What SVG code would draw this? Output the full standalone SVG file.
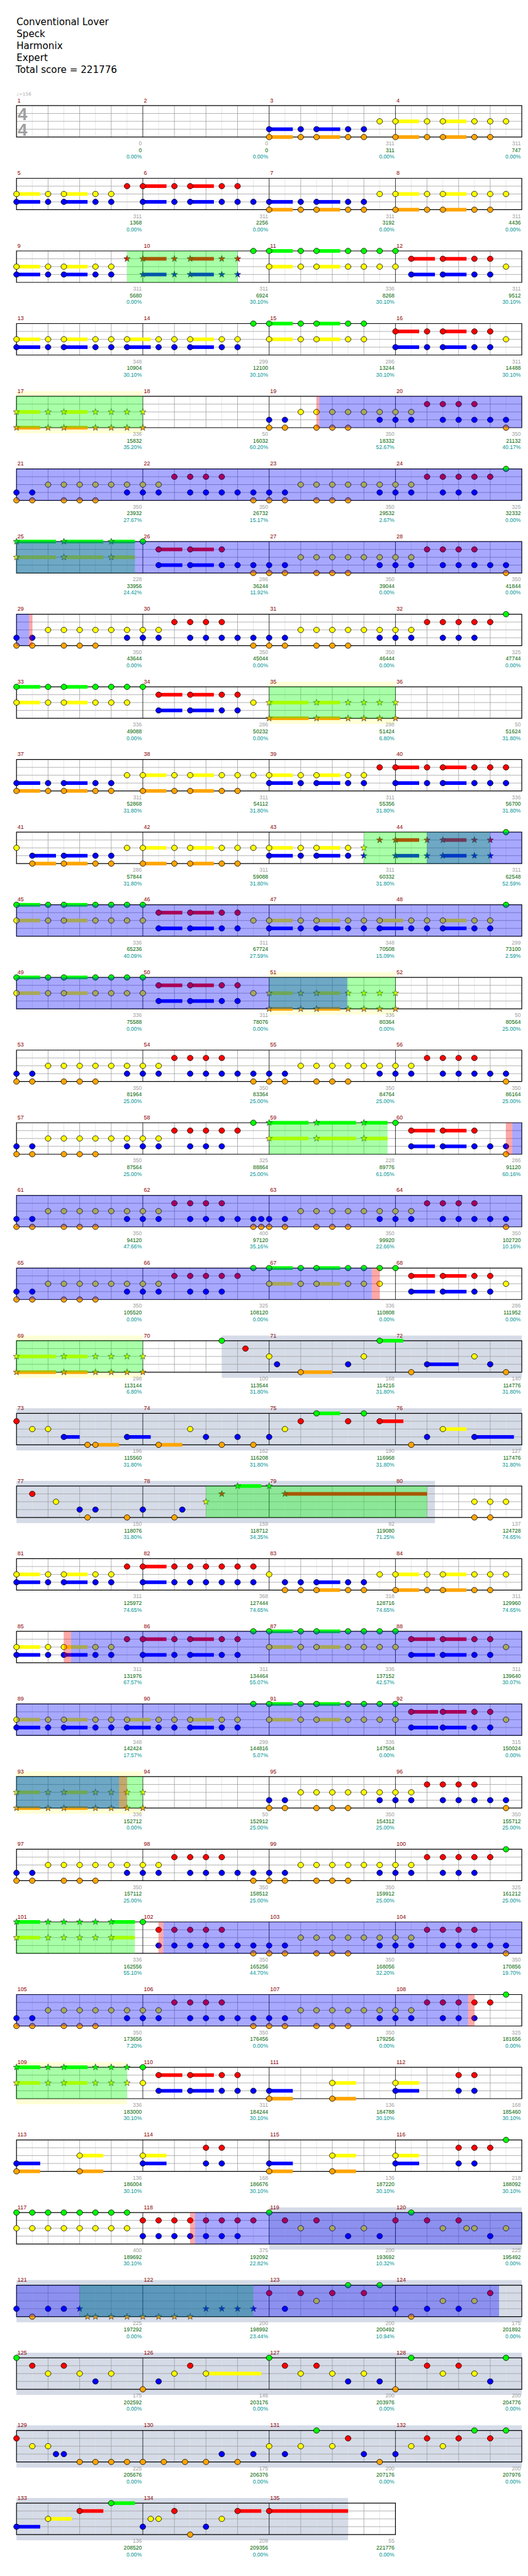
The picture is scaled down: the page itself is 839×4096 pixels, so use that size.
<svg xmlns="http://www.w3.org/2000/svg" width="839" height="4096" viewBox="0 0 839 4096">
<style>
*{vector-effect:non-scaling-stroke}
text{font-family:"Liberation Sans",Arial,sans-serif;font-size:10.5px}
.t{font-family:"DejaVu Sans",sans-serif;font-size:18.5px;fill:#000}
.n{fill:#8b0000;font-size:11px}
.g{fill:#a0a0a0;text-anchor:end}
.s{fill:#006400;text-anchor:end}
.p{fill:#009494;text-anchor:end}
.py{fill:#ffffd6}
.sl{fill:#d5dbe7}
.wf{fill:#fff}
.og{fill:#0f0;fill-opacity:.34}
.ob{fill:#00f;fill-opacity:.34}
.or{fill:#f00;fill-opacity:.34}
.c{stroke:#000;stroke-width:.8}
.k{stroke:#222;stroke-width:.6}
.fG{fill:#0f0}.fR{fill:#f00}.fY{fill:#ff0}.fB{fill:#00f}.fO{fill:#ffa500}
</style>
<defs>
<ellipse id="G" class="c" rx=".18" ry="5.3" fill="#0f0" vector-effect="non-scaling-stroke"/>
<ellipse id="R" class="c" cy="15.25" rx=".18" ry="5.3" fill="#f00" vector-effect="non-scaling-stroke"/>
<ellipse id="Y" class="c" cy="30.5" rx=".18" ry="5.3" fill="#ff0" vector-effect="non-scaling-stroke"/>
<ellipse id="B" class="c" cy="45.75" rx=".18" ry="5.3" fill="#00f" vector-effect="non-scaling-stroke"/>
<ellipse id="O" class="c" cy="61" rx=".18" ry="5.3" fill="#ffa500" vector-effect="non-scaling-stroke"/>
<rect id="sG" y="-3.5" width="1.5" height="7" fill="#0f0"/>
<rect id="sR" y="11.75" width="1.5" height="7" fill="#f00"/>
<rect id="sY" y="27" width="1.5" height="7" fill="#ff0"/>
<rect id="sB" y="42.25" width="1.5" height="7" fill="#00f"/>
<rect id="sO" y="57.5" width="1.5" height="7" fill="#ffa500"/>
<polygon id="xG" class="k" fill="#0f0" vector-effect="non-scaling-stroke" points="0,-6.5 .05,-2.1 .202,-2 .081,.8 .125,5.3 0,2.6 -.125,5.3 -.081,.8 -.202,-2 -.05,-2.1"/>
<polygon id="xR" class="k" fill="#f00" vector-effect="non-scaling-stroke" transform="translate(0 15.25)" points="0,-6.5 .05,-2.1 .202,-2 .081,.8 .125,5.3 0,2.6 -.125,5.3 -.081,.8 -.202,-2 -.05,-2.1"/>
<polygon id="xY" class="k" fill="#ff0" vector-effect="non-scaling-stroke" transform="translate(0 30.5)" points="0,-6.5 .05,-2.1 .202,-2 .081,.8 .125,5.3 0,2.6 -.125,5.3 -.081,.8 -.202,-2 -.05,-2.1"/>
<polygon id="xB" class="k" fill="#00f" vector-effect="non-scaling-stroke" transform="translate(0 45.75)" points="0,-6.5 .05,-2.1 .202,-2 .081,.8 .125,5.3 0,2.6 -.125,5.3 -.081,.8 -.202,-2 -.05,-2.1"/>
<polygon id="xO" class="k" fill="#ffa500" vector-effect="non-scaling-stroke" transform="translate(0 61)" points="0,-6.5 .05,-2.1 .202,-2 .081,.8 .125,5.3 0,2.6 -.125,5.3 -.081,.8 -.202,-2 -.05,-2.1"/>
<g id="st" fill="none" stroke-width=".8">
<path stroke="#e2e2e2" vector-effect="non-scaling-stroke" d="M1 0V61M3 0V61M5 0V61M7 0V61M9 0V61M11 0V61M13 0V61M15 0V61M17 0V61M19 0V61M21 0V61M23 0V61M25 0V61M27 0V61M29 0V61M31 0V61"/>
<path stroke="#a0a0a0" vector-effect="non-scaling-stroke" d="M2 0V61M4 0V61M6 0V61M10 0V61M12 0V61M14 0V61M18 0V61M20 0V61M22 0V61M26 0V61M28 0V61M30 0V61M0 15.25H32M0 30.5H32M0 45.75H32"/>
<path stroke="#000" vector-effect="non-scaling-stroke" d="M8 0V61M16 0V61M24 0V61"/>
<rect width="32" height="61" stroke="#000" stroke-width="1.2" vector-effect="non-scaling-stroke"/>
</g>
<g id="st3" fill="none" stroke-width=".8">
<path stroke="#e2e2e2" vector-effect="non-scaling-stroke" d="M1 0V61M3 0V61M5 0V61M7 0V61M9 0V61M11 0V61M13 0V61M15 0V61M17 0V61M19 0V61M21 0V61M23 0V61"/>
<path stroke="#a0a0a0" vector-effect="non-scaling-stroke" d="M2 0V61M4 0V61M6 0V61M10 0V61M12 0V61M14 0V61M18 0V61M20 0V61M22 0V61M0 15.25H24M0 30.5H24M0 45.75H24"/>
<path stroke="#000" vector-effect="non-scaling-stroke" d="M8 0V61M16 0V61"/>
<rect width="24" height="61" stroke="#000" stroke-width="1.2" vector-effect="non-scaling-stroke"/>
</g>
</defs>
<rect width="839" height="4096" fill="#fff"/>
<g transform="scale(0.8193)">
<g id="title">
<text class="t" x="32" y="49">Conventional Lover</text>
<text class="t" x="32" y="72">Speck</text>
<text class="t" x="32" y="95">Harmonix</text>
<text class="t" x="32" y="118">Expert</text>
<text class="t" x="30.5" y="141">Total score = 221776</text>
</g>

<g id="r1" transform="translate(32 205)">
<g transform="scale(30.625 1)">
<use href="#st"/>
<use href="#sB" x="16"/><use href="#sB" x="19"/><use href="#sO" x="16"/><use href="#sO" x="19"/><use href="#sO" x="24"/><use href="#sO" x="27"/><use href="#sY" x="24"/><use href="#sY" x="27"/>
<use href="#B" x="16"/><use href="#B" x="18"/><use href="#B" x="19"/><use href="#B" x="21"/><use href="#B" x="22"/>
<use href="#O" x="16"/><use href="#O" x="18"/><use href="#O" x="19"/><use href="#O" x="21"/><use href="#O" x="22"/><use href="#O" x="24"/><use href="#O" x="26"/><use href="#O" x="27"/><use href="#O" x="29"/><use href="#O" x="30"/>
<use href="#Y" x="23"/><use href="#Y" x="24"/><use href="#Y" x="26"/><use href="#Y" x="27"/><use href="#Y" x="29"/><use href="#Y" x="30"/><use href="#Y" x="31"/>
</g>
<text x="0" y="-19" style="font-family:'DejaVu Sans',sans-serif;font-size:9px;fill:#aaa">♩=156</text>
<text x="11.5" y="28" style="font-weight:bold;font-size:34px;fill:#a0a0a0;text-anchor:middle">4</text>
<text x="11.5" y="59" style="font-weight:bold;font-size:34px;fill:#a0a0a0;text-anchor:middle">4</text>
<text class="n" y="-6.5"><tspan x="2">1</tspan><tspan x="247">2</tspan><tspan x="492">3</tspan><tspan x="737">4</tspan></text>
<text class="g" y="77"><tspan x="243">0</tspan><tspan x="488">0</tspan><tspan x="733">311</tspan><tspan x="978">311</tspan></text>
<text class="s" y="90"><tspan x="243">0</tspan><tspan x="488">0</tspan><tspan x="733">311</tspan><tspan x="978">747</tspan></text>
<text class="p" y="103"><tspan x="243">0.00%</tspan><tspan x="488">0.00%</tspan><tspan x="733">0.00%</tspan><tspan x="978">0.00%</tspan></text>
</g>

<g id="r2" transform="translate(32 346)">
<g transform="scale(30.625 1)">
<use href="#st"/>
<use href="#sR" x="8"/><use href="#sR" x="11"/><use href="#sY" x="0"/><use href="#sY" x="3"/><use href="#sY" x="24"/><use href="#sY" x="27"/><use href="#sB" x="0"/><use href="#sB" x="3"/><use href="#sB" x="8"/><use href="#sB" x="11"/><use href="#sB" x="16"/><use href="#sB" x="19"/><use href="#sO" x="16"/><use href="#sO" x="19"/><use href="#sO" x="24"/><use href="#sO" x="27"/>
<use href="#R" x="7"/><use href="#R" x="8"/><use href="#R" x="10"/><use href="#R" x="11"/><use href="#R" x="13"/><use href="#R" x="14"/>
<use href="#Y" x="0"/><use href="#Y" x="2"/><use href="#Y" x="3"/><use href="#Y" x="5"/><use href="#Y" x="6"/><use href="#Y" x="23"/><use href="#Y" x="24"/><use href="#Y" x="26"/><use href="#Y" x="27"/><use href="#Y" x="29"/><use href="#Y" x="30"/><use href="#Y" x="31"/>
<use href="#B" x="0"/><use href="#B" x="2"/><use href="#B" x="3"/><use href="#B" x="5"/><use href="#B" x="6"/><use href="#B" x="8"/><use href="#B" x="10"/><use href="#B" x="11"/><use href="#B" x="13"/><use href="#B" x="14"/><use href="#B" x="15"/><use href="#B" x="16"/><use href="#B" x="18"/><use href="#B" x="19"/><use href="#B" x="21"/><use href="#B" x="22"/>
<use href="#O" x="16"/><use href="#O" x="18"/><use href="#O" x="19"/><use href="#O" x="21"/><use href="#O" x="22"/><use href="#O" x="24"/><use href="#O" x="26"/><use href="#O" x="27"/><use href="#O" x="29"/><use href="#O" x="30"/>
</g>
<text class="n" y="-6.5"><tspan x="2">5</tspan><tspan x="247">6</tspan><tspan x="492">7</tspan><tspan x="737">8</tspan></text>
<text class="g" y="77"><tspan x="243">311</tspan><tspan x="488">311</tspan><tspan x="733">311</tspan><tspan x="978">311</tspan></text>
<text class="s" y="90"><tspan x="243">1368</tspan><tspan x="488">2256</tspan><tspan x="733">3192</tspan><tspan x="978">4436</tspan></text>
<text class="p" y="103"><tspan x="243">0.00%</tspan><tspan x="488">0.00%</tspan><tspan x="733">0.00%</tspan><tspan x="978">0.00%</tspan></text>
</g>

<g id="r3" transform="translate(32 487)">
<g transform="scale(30.625 1)">
<use href="#st"/>
<use href="#sR" x="8"/><use href="#sR" x="11"/><use href="#sB" x="8"/><use href="#sB" x="11"/><use href="#sG" x="16"/><use href="#sG" x="19"/><use href="#sY" x="0"/><use href="#sY" x="3"/><use href="#sY" x="16"/><use href="#sY" x="19"/><use href="#sB" x="0"/><use href="#sB" x="3"/><use href="#sB" x="25"/><use href="#sB" x="27"/><use href="#sR" x="25"/><use href="#sR" x="27"/>
<use href="#xR" x="7"/><use href="#xR" x="8"/><use href="#xR" x="10"/><use href="#xR" x="11"/><use href="#xR" x="13"/><use href="#xR" x="14"/>
<use href="#xB" x="8"/><use href="#xB" x="10"/><use href="#xB" x="11"/><use href="#xB" x="13"/><use href="#xB" x="14"/>
<use href="#G" x="15"/><use href="#G" x="16"/><use href="#G" x="18"/><use href="#G" x="19"/><use href="#G" x="21"/><use href="#G" x="22"/><use href="#G" x="23"/><use href="#G" x="24"/>
<use href="#Y" x="0"/><use href="#Y" x="2"/><use href="#Y" x="3"/><use href="#Y" x="5"/><use href="#Y" x="6"/><use href="#Y" x="16"/><use href="#Y" x="18"/><use href="#Y" x="19"/><use href="#Y" x="21"/><use href="#Y" x="22"/><use href="#Y" x="23"/><use href="#Y" x="24"/><use href="#Y" x="31"/>
<use href="#B" x="0"/><use href="#B" x="2"/><use href="#B" x="3"/><use href="#B" x="5"/><use href="#B" x="6"/><use href="#B" x="25"/><use href="#B" x="27"/><use href="#B" x="29"/><use href="#B" x="30"/>
<use href="#R" x="25"/><use href="#R" x="27"/><use href="#R" x="29"/><use href="#R" x="30"/>
<rect class="og" x="7" width="7" height="61"/>
</g>
<text class="n" y="-6.5"><tspan x="2">9</tspan><tspan x="247">10</tspan><tspan x="492">11</tspan><tspan x="737">12</tspan></text>
<text class="g" y="77"><tspan x="243">311</tspan><tspan x="488">311</tspan><tspan x="733">336</tspan><tspan x="978">311</tspan></text>
<text class="s" y="90"><tspan x="243">5680</tspan><tspan x="488">6924</tspan><tspan x="733">8268</tspan><tspan x="978">9512</tspan></text>
<text class="p" y="103"><tspan x="243">0.00%</tspan><tspan x="488">30.10%</tspan><tspan x="733">30.10%</tspan><tspan x="978">30.10%</tspan></text>
</g>

<g id="r4" transform="translate(32 628)">
<g transform="scale(30.625 1)">
<use href="#st"/>
<use href="#sG" x="16"/><use href="#sG" x="19"/><use href="#sY" x="0"/><use href="#sY" x="3"/><use href="#sY" x="7"/><use href="#sY" x="11"/><use href="#sY" x="16"/><use href="#sY" x="19"/><use href="#sB" x="0"/><use href="#sB" x="3"/><use href="#sB" x="7"/><use href="#sB" x="11"/><use href="#sB" x="24"/><use href="#sB" x="27"/><use href="#sR" x="24"/><use href="#sR" x="27"/>
<use href="#G" x="15"/><use href="#G" x="16"/><use href="#G" x="18"/><use href="#G" x="19"/><use href="#G" x="21"/><use href="#G" x="22"/>
<use href="#Y" x="0"/><use href="#Y" x="2"/><use href="#Y" x="3"/><use href="#Y" x="5"/><use href="#Y" x="6"/><use href="#Y" x="7"/><use href="#Y" x="9"/><use href="#Y" x="10"/><use href="#Y" x="11"/><use href="#Y" x="13"/><use href="#Y" x="14"/><use href="#Y" x="16"/><use href="#Y" x="18"/><use href="#Y" x="19"/><use href="#Y" x="21"/><use href="#Y" x="22"/><use href="#Y" x="31"/>
<use href="#B" x="0"/><use href="#B" x="2"/><use href="#B" x="3"/><use href="#B" x="5"/><use href="#B" x="6"/><use href="#B" x="7"/><use href="#B" x="9"/><use href="#B" x="10"/><use href="#B" x="11"/><use href="#B" x="13"/><use href="#B" x="14"/><use href="#B" x="24"/><use href="#B" x="26"/><use href="#B" x="27"/><use href="#B" x="29"/><use href="#B" x="30"/>
<use href="#R" x="24"/><use href="#R" x="26"/><use href="#R" x="27"/><use href="#R" x="29"/><use href="#R" x="30"/>
</g>
<text class="n" y="-6.5"><tspan x="2">13</tspan><tspan x="247">14</tspan><tspan x="492">15</tspan><tspan x="737">16</tspan></text>
<text class="g" y="77"><tspan x="243">348</tspan><tspan x="488">299</tspan><tspan x="733">286</tspan><tspan x="978">311</tspan></text>
<text class="s" y="90"><tspan x="243">10904</tspan><tspan x="488">12100</tspan><tspan x="733">13244</tspan><tspan x="978">14488</tspan></text>
<text class="p" y="103"><tspan x="243">30.10%</tspan><tspan x="488">30.10%</tspan><tspan x="733">30.10%</tspan><tspan x="978">30.10%</tspan></text>
</g>

<g id="r5" transform="translate(32 769)">
<g transform="scale(30.625 1)">
<rect class="py" y="-10" width="8" height="82"/><rect class="wf" width="8" height="61"/>
<use href="#st"/>
<use href="#sY" x="0"/><use href="#sY" x="3"/><use href="#sO" x="0"/><use href="#sO" x="3"/>
<use href="#xY" x="0"/><use href="#xY" x="2"/><use href="#xY" x="3"/><use href="#xY" x="5"/><use href="#xY" x="6"/><use href="#xY" x="7"/><use href="#xY" x="8"/>
<use href="#xO" x="0"/><use href="#xO" x="2"/><use href="#xO" x="3"/><use href="#xO" x="5"/><use href="#xO" x="6"/><use href="#xO" x="7"/><use href="#xO" x="8"/>
<use href="#B" x="16"/><use href="#B" x="17"/><use href="#O" x="16"/><use href="#O" x="17"/><use href="#O" x="19"/><use href="#Y" x="18"/><use href="#Y" x="19"/>
<use href="#Y" x="20"/><use href="#Y" x="21"/><use href="#Y" x="22"/><use href="#Y" x="23"/><use href="#Y" x="24"/><use href="#Y" x="25"/>
<use href="#O" x="20"/><use href="#O" x="21"/><use href="#O" x="31"/>
<use href="#B" x="23"/><use href="#B" x="24"/><use href="#B" x="25"/><use href="#B" x="27"/><use href="#B" x="28"/><use href="#B" x="29"/><use href="#B" x="30"/><use href="#B" x="31"/>
<use href="#R" x="26"/><use href="#R" x="27"/><use href="#R" x="28"/><use href="#R" x="29"/>
<rect class="og" width="8" height="61"/><rect class="or" x="19" width=".17" height="61"/><rect class="ob" x="19.17" width="12.83" height="61"/>
</g>
<text class="n" y="-6.5"><tspan x="2">17</tspan><tspan x="247">18</tspan><tspan x="492">19</tspan><tspan x="737">20</tspan></text>
<text class="g" y="77"><tspan x="243">336</tspan><tspan x="488">50</tspan><tspan x="733">350</tspan><tspan x="978">350</tspan></text>
<text class="s" y="90"><tspan x="243">15832</tspan><tspan x="488">16032</tspan><tspan x="733">18332</tspan><tspan x="978">21132</tspan></text>
<text class="p" y="103"><tspan x="243">35.20%</tspan><tspan x="488">60.20%</tspan><tspan x="733">52.67%</tspan><tspan x="978">40.17%</tspan></text>
</g>

<g id="r6" transform="translate(32 910)">
<g transform="scale(30.625 1)">
<use href="#st"/>
<use href="#B" x="0"/><use href="#B" x="1"/><use href="#B" x="7"/><use href="#B" x="8"/><use href="#B" x="9"/><use href="#B" x="11"/><use href="#B" x="12"/><use href="#B" x="13"/><use href="#B" x="14"/><use href="#B" x="15"/><use href="#B" x="16"/><use href="#B" x="17"/><use href="#B" x="23"/><use href="#B" x="24"/><use href="#B" x="25"/><use href="#B" x="27"/><use href="#B" x="28"/><use href="#B" x="29"/>
<use href="#O" x="0"/><use href="#O" x="1"/><use href="#O" x="3"/><use href="#O" x="4"/><use href="#O" x="5"/><use href="#O" x="15"/><use href="#O" x="16"/><use href="#O" x="17"/><use href="#O" x="19"/><use href="#O" x="20"/><use href="#O" x="21"/>
<use href="#Y" x="2"/><use href="#Y" x="3"/><use href="#Y" x="4"/><use href="#Y" x="5"/><use href="#Y" x="6"/><use href="#Y" x="7"/><use href="#Y" x="8"/><use href="#Y" x="9"/><use href="#Y" x="18"/><use href="#Y" x="19"/><use href="#Y" x="20"/><use href="#Y" x="21"/><use href="#Y" x="22"/><use href="#Y" x="23"/><use href="#Y" x="24"/><use href="#Y" x="25"/>
<use href="#R" x="10"/><use href="#R" x="11"/><use href="#R" x="12"/><use href="#R" x="13"/><use href="#R" x="26"/><use href="#R" x="27"/><use href="#R" x="28"/><use href="#R" x="29"/><use href="#R" x="30"/>
<use href="#G" x="31"/>
<rect class="ob" width="32" height="61"/>
</g>
<text class="n" y="-6.5"><tspan x="2">21</tspan><tspan x="247">22</tspan><tspan x="492">23</tspan><tspan x="737">24</tspan></text>
<text class="g" y="77"><tspan x="243">350</tspan><tspan x="488">350</tspan><tspan x="733">350</tspan><tspan x="978">325</tspan></text>
<text class="s" y="90"><tspan x="243">23932</tspan><tspan x="488">26732</tspan><tspan x="733">29532</tspan><tspan x="978">32332</tspan></text>
<text class="p" y="103"><tspan x="243">27.67%</tspan><tspan x="488">15.17%</tspan><tspan x="733">2.67%</tspan><tspan x="978">0.00%</tspan></text>
</g>

<g id="r7" transform="translate(32 1051)">
<g transform="scale(30.625 1)">
<use href="#st"/>
<rect class="fG" y="-3.5" width="2.5" height="7"/><rect class="fG" x="3" y="-3.5" width="2.5" height="7"/><use href="#sG" x="6"/>
<rect class="fY" y="27" width="2.5" height="7"/><rect class="fY" x="3" y="27" width="2.5" height="7"/><use href="#sY" x="6"/>
<use href="#sR" x="9"/><use href="#sR" x="11"/><use href="#sB" x="9"/><use href="#sB" x="11"/>
<use href="#xG" x="0"/><use href="#xG" x="3"/><use href="#xG" x="6"/><use href="#xY" x="0"/><use href="#xY" x="3"/><use href="#xY" x="6"/>
<use href="#G" x="8"/>
<use href="#R" x="9"/><use href="#R" x="11"/><use href="#R" x="13"/><use href="#R" x="26"/><use href="#R" x="27"/><use href="#R" x="28"/><use href="#R" x="29"/>
<use href="#B" x="9"/><use href="#B" x="11"/><use href="#B" x="13"/><use href="#B" x="14"/><use href="#B" x="15"/><use href="#B" x="16"/><use href="#B" x="17"/><use href="#B" x="23"/><use href="#B" x="24"/><use href="#B" x="25"/><use href="#B" x="27"/><use href="#B" x="28"/><use href="#B" x="29"/><use href="#B" x="30"/><use href="#B" x="31"/>
<use href="#Y" x="18"/><use href="#Y" x="19"/><use href="#Y" x="20"/><use href="#Y" x="21"/><use href="#Y" x="22"/><use href="#Y" x="23"/><use href="#Y" x="24"/><use href="#Y" x="25"/>
<use href="#O" x="15"/><use href="#O" x="16"/><use href="#O" x="17"/><use href="#O" x="19"/><use href="#O" x="20"/><use href="#O" x="21"/><use href="#O" x="31"/>
<rect class="og" width="7.5" height="61"/><rect class="ob" width="32" height="61"/>
</g>
<text class="n" y="-6.5"><tspan x="2">25</tspan><tspan x="247">26</tspan><tspan x="492">27</tspan><tspan x="737">28</tspan></text>
<text class="g" y="77"><tspan x="243">228</tspan><tspan x="488">286</tspan><tspan x="733">350</tspan><tspan x="978">350</tspan></text>
<text class="s" y="90"><tspan x="243">33956</tspan><tspan x="488">36244</tspan><tspan x="733">39044</tspan><tspan x="978">41844</tspan></text>
<text class="p" y="103"><tspan x="243">24.42%</tspan><tspan x="488">11.92%</tspan><tspan x="733">0.00%</tspan><tspan x="978">0.00%</tspan></text>
</g>

<g id="r8" transform="translate(32 1192)">
<g transform="scale(30.625 1)">
<use href="#st"/>
<use href="#B" x="0"/><use href="#B" x="1"/><use href="#B" x="7"/><use href="#B" x="8"/><use href="#B" x="9"/><use href="#B" x="11"/><use href="#B" x="12"/><use href="#B" x="13"/><use href="#B" x="14"/><use href="#B" x="15"/><use href="#B" x="16"/><use href="#B" x="17"/><use href="#B" x="23"/><use href="#B" x="24"/><use href="#B" x="25"/><use href="#B" x="27"/><use href="#B" x="28"/><use href="#B" x="29"/>
<use href="#O" x="0"/><use href="#O" x="1"/><use href="#O" x="3"/><use href="#O" x="4"/><use href="#O" x="5"/><use href="#O" x="15"/><use href="#O" x="16"/><use href="#O" x="17"/><use href="#O" x="19"/><use href="#O" x="20"/><use href="#O" x="21"/>
<use href="#Y" x="2"/><use href="#Y" x="3"/><use href="#Y" x="4"/><use href="#Y" x="5"/><use href="#Y" x="6"/><use href="#Y" x="7"/><use href="#Y" x="8"/><use href="#Y" x="9"/><use href="#Y" x="18"/><use href="#Y" x="19"/><use href="#Y" x="20"/><use href="#Y" x="21"/><use href="#Y" x="22"/><use href="#Y" x="23"/><use href="#Y" x="24"/><use href="#Y" x="25"/>
<use href="#R" x="10"/><use href="#R" x="11"/><use href="#R" x="12"/><use href="#R" x="13"/><use href="#R" x="26"/><use href="#R" x="27"/><use href="#R" x="28"/><use href="#R" x="29"/><use href="#R" x="30"/>
<use href="#G" x="31"/>
<rect class="ob" width=".8" height="61"/><rect class="or" x=".8" width=".2" height="61"/>
</g>
<text class="n" y="-6.5"><tspan x="2">29</tspan><tspan x="247">30</tspan><tspan x="492">31</tspan><tspan x="737">32</tspan></text>
<text class="g" y="77"><tspan x="243">350</tspan><tspan x="488">350</tspan><tspan x="733">350</tspan><tspan x="978">325</tspan></text>
<text class="s" y="90"><tspan x="243">43644</tspan><tspan x="488">45044</tspan><tspan x="733">46444</tspan><tspan x="978">47744</tspan></text>
<text class="p" y="103"><tspan x="243">0.00%</tspan><tspan x="488">0.00%</tspan><tspan x="733">0.00%</tspan><tspan x="978">0.00%</tspan></text>
</g>

<g id="r9" transform="translate(32 1333)">
<g transform="scale(30.625 1)">
<rect class="py" x="16" y="-10" width="8" height="82"/><rect class="wf" x="16" width="8" height="61"/>
<use href="#st"/>
<use href="#sG" x="0"/><use href="#sG" x="3"/><use href="#sY" x="0"/><use href="#sY" x="3"/><use href="#sR" x="9"/><use href="#sR" x="11"/><use href="#sB" x="9"/><use href="#sB" x="11"/>
<rect class="fY" x="16" y="27" width="2.5" height="7"/><use href="#sY" x="19"/><rect class="fO" x="16" y="57.5" width="2.5" height="7"/><use href="#sO" x="19"/>
<use href="#G" x="0"/><use href="#G" x="2"/><use href="#G" x="3"/><use href="#G" x="5"/><use href="#G" x="6"/><use href="#G" x="7"/><use href="#G" x="8"/>
<use href="#Y" x="0"/><use href="#Y" x="2"/><use href="#Y" x="3"/><use href="#Y" x="5"/><use href="#Y" x="6"/><use href="#Y" x="7"/><use href="#Y" x="15"/>
<use href="#R" x="9"/><use href="#R" x="11"/><use href="#R" x="13"/><use href="#R" x="14"/>
<use href="#B" x="9"/><use href="#B" x="11"/><use href="#B" x="13"/><use href="#B" x="14"/>
<use href="#xY" x="16"/><use href="#xY" x="19"/><use href="#xY" x="21"/><use href="#xY" x="22"/><use href="#xY" x="23"/><use href="#xY" x="24"/>
<use href="#xO" x="16"/><use href="#xO" x="19"/><use href="#xO" x="21"/><use href="#xO" x="22"/><use href="#xO" x="23"/><use href="#xO" x="24"/>
<rect class="og" x="16" width="8" height="61"/>
</g>
<text class="n" y="-6.5"><tspan x="2">33</tspan><tspan x="247">34</tspan><tspan x="492">35</tspan><tspan x="737">36</tspan></text>
<text class="g" y="77"><tspan x="243">336</tspan><tspan x="488">286</tspan><tspan x="733">298</tspan><tspan x="978">50</tspan></text>
<text class="s" y="90"><tspan x="243">49088</tspan><tspan x="488">50232</tspan><tspan x="733">51424</tspan><tspan x="978">51624</tspan></text>
<text class="p" y="103"><tspan x="243">0.00%</tspan><tspan x="488">0.00%</tspan><tspan x="733">6.80%</tspan><tspan x="978">31.80%</tspan></text>
</g>

<g id="r10" transform="translate(32 1474)">
<g transform="scale(30.625 1)">
<use href="#st"/>
<use href="#sY" x="8"/><use href="#sY" x="11"/><use href="#sY" x="16"/><use href="#sY" x="19"/><use href="#sB" x="0"/><use href="#sB" x="3"/><use href="#sB" x="16"/><use href="#sB" x="19"/><use href="#sB" x="24"/><use href="#sB" x="27"/><use href="#sO" x="0"/><use href="#sO" x="3"/><use href="#sO" x="8"/><use href="#sO" x="11"/><use href="#sR" x="24"/><use href="#sR" x="27"/>
<use href="#Y" x="7"/><use href="#Y" x="8"/><use href="#Y" x="10"/><use href="#Y" x="11"/><use href="#Y" x="13"/><use href="#Y" x="14"/><use href="#Y" x="15"/><use href="#Y" x="16"/><use href="#Y" x="18"/><use href="#Y" x="19"/><use href="#Y" x="21"/><use href="#Y" x="22"/>
<use href="#B" x="0"/><use href="#B" x="2"/><use href="#B" x="3"/><use href="#B" x="5"/><use href="#B" x="6"/><use href="#B" x="16"/><use href="#B" x="18"/><use href="#B" x="19"/><use href="#B" x="21"/><use href="#B" x="22"/><use href="#B" x="24"/><use href="#B" x="26"/><use href="#B" x="27"/><use href="#B" x="29"/><use href="#B" x="30"/><use href="#B" x="31"/>
<use href="#O" x="0"/><use href="#O" x="2"/><use href="#O" x="3"/><use href="#O" x="5"/><use href="#O" x="6"/><use href="#O" x="8"/><use href="#O" x="10"/><use href="#O" x="11"/><use href="#O" x="13"/><use href="#O" x="14"/>
<use href="#R" x="23"/><use href="#R" x="24"/><use href="#R" x="26"/><use href="#R" x="27"/><use href="#R" x="29"/><use href="#R" x="30"/><use href="#R" x="31"/>
</g>
<text class="n" y="-6.5"><tspan x="2">37</tspan><tspan x="247">38</tspan><tspan x="492">39</tspan><tspan x="737">40</tspan></text>
<text class="g" y="77"><tspan x="243">311</tspan><tspan x="488">311</tspan><tspan x="733">311</tspan><tspan x="978">336</tspan></text>
<text class="s" y="90"><tspan x="243">52868</tspan><tspan x="488">54112</tspan><tspan x="733">55356</tspan><tspan x="978">56700</tspan></text>
<text class="p" y="103"><tspan x="243">31.80%</tspan><tspan x="488">31.80%</tspan><tspan x="733">31.80%</tspan><tspan x="978">31.80%</tspan></text>
</g>

<g id="r11" transform="translate(32 1615)">
<g transform="scale(30.625 1)">
<use href="#st"/>
<use href="#sY" x="8"/><use href="#sY" x="11"/><use href="#sY" x="16"/><use href="#sY" x="19"/><use href="#sB" x="1"/><use href="#sB" x="3"/><use href="#sB" x="16"/><use href="#sB" x="19"/><use href="#sO" x="1"/><use href="#sO" x="3"/><use href="#sO" x="8"/><use href="#sO" x="11"/><use href="#sR" x="24"/><use href="#sR" x="27"/><use href="#sB" x="24"/><use href="#sB" x="27"/>
<use href="#Y" x="0"/><use href="#Y" x="7"/><use href="#Y" x="8"/><use href="#Y" x="10"/><use href="#Y" x="11"/><use href="#Y" x="13"/><use href="#Y" x="14"/><use href="#Y" x="15"/><use href="#Y" x="16"/><use href="#Y" x="18"/><use href="#Y" x="19"/><use href="#Y" x="21"/><use href="#xY" x="22"/>
<use href="#B" x="1"/><use href="#B" x="3"/><use href="#B" x="5"/><use href="#B" x="6"/><use href="#B" x="16"/><use href="#B" x="18"/><use href="#B" x="19"/><use href="#B" x="21"/><use href="#xB" x="22"/>
<use href="#O" x="1"/><use href="#O" x="3"/><use href="#O" x="5"/><use href="#O" x="6"/><use href="#O" x="8"/><use href="#O" x="10"/><use href="#O" x="11"/><use href="#O" x="13"/><use href="#O" x="14"/>
<use href="#xR" x="23"/><use href="#xR" x="24"/><use href="#xR" x="26"/><use href="#xR" x="27"/><use href="#xR" x="29"/><use href="#xR" x="30"/>
<use href="#xB" x="24"/><use href="#xB" x="26"/><use href="#xB" x="27"/><use href="#xB" x="29"/><use href="#xB" x="30"/>
<use href="#G" x="31"/>
<rect class="og" x="22" width="8" height="61"/><rect class="ob" x="26" width="6" height="61"/>
</g>
<text class="n" y="-6.5"><tspan x="2">41</tspan><tspan x="247">42</tspan><tspan x="492">43</tspan><tspan x="737">44</tspan></text>
<text class="g" y="77"><tspan x="243">286</tspan><tspan x="488">311</tspan><tspan x="733">311</tspan><tspan x="978">311</tspan></text>
<text class="s" y="90"><tspan x="243">57844</tspan><tspan x="488">59088</tspan><tspan x="733">60332</tspan><tspan x="978">62548</tspan></text>
<text class="p" y="103"><tspan x="243">31.80%</tspan><tspan x="488">31.80%</tspan><tspan x="733">31.80%</tspan><tspan x="978">52.59%</tspan></text>
</g>

<g id="r12" transform="translate(32 1756)">
<g transform="scale(30.625 1)">
<use href="#st"/>
<use href="#sG" x="0"/><use href="#sG" x="3"/><use href="#sY" x="0"/><use href="#sY" x="3"/><use href="#sY" x="16"/><use href="#sY" x="19"/><use href="#sY" x="23"/><use href="#sY" x="27"/><use href="#sR" x="9"/><use href="#sR" x="11"/><use href="#sB" x="9"/><use href="#sB" x="11"/><use href="#sB" x="16"/><use href="#sB" x="19"/><use href="#sB" x="23"/><use href="#sB" x="27"/>
<use href="#G" x="0"/><use href="#G" x="2"/><use href="#G" x="3"/><use href="#G" x="5"/><use href="#G" x="6"/><use href="#G" x="7"/><use href="#G" x="8"/><use href="#G" x="31"/>
<use href="#Y" x="0"/><use href="#Y" x="2"/><use href="#Y" x="3"/><use href="#Y" x="5"/><use href="#Y" x="6"/><use href="#Y" x="7"/><use href="#Y" x="8"/><use href="#Y" x="15"/><use href="#Y" x="16"/><use href="#Y" x="18"/><use href="#Y" x="19"/><use href="#Y" x="21"/><use href="#Y" x="22"/><use href="#Y" x="23"/><use href="#Y" x="25"/><use href="#Y" x="26"/><use href="#Y" x="27"/><use href="#Y" x="29"/><use href="#Y" x="30"/>
<use href="#R" x="9"/><use href="#R" x="11"/><use href="#R" x="13"/><use href="#R" x="14"/>
<use href="#B" x="9"/><use href="#B" x="11"/><use href="#B" x="13"/><use href="#B" x="14"/><use href="#B" x="16"/><use href="#B" x="18"/><use href="#B" x="19"/><use href="#B" x="21"/><use href="#B" x="22"/><use href="#B" x="23"/><use href="#B" x="25"/><use href="#B" x="26"/><use href="#B" x="27"/><use href="#B" x="29"/><use href="#B" x="30"/>
<rect class="ob" width="32" height="61"/>
</g>
<text class="n" y="-6.5"><tspan x="2">45</tspan><tspan x="247">46</tspan><tspan x="492">47</tspan><tspan x="737">48</tspan></text>
<text class="g" y="77"><tspan x="243">336</tspan><tspan x="488">311</tspan><tspan x="733">348</tspan><tspan x="978">299</tspan></text>
<text class="s" y="90"><tspan x="243">65236</tspan><tspan x="488">67724</tspan><tspan x="733">70508</tspan><tspan x="978">73100</tspan></text>
<text class="p" y="103"><tspan x="243">40.09%</tspan><tspan x="488">27.59%</tspan><tspan x="733">15.09%</tspan><tspan x="978">2.59%</tspan></text>
</g>

<g id="r13" transform="translate(32 1897)">
<g transform="scale(30.625 1)">
<rect class="py" x="16" y="-10" width="8" height="82"/><rect class="wf" x="16" width="8" height="61"/>
<use href="#st"/>
<use href="#sG" x="0"/><use href="#sG" x="3"/><use href="#sY" x="0"/><use href="#sY" x="3"/><use href="#sR" x="9"/><use href="#sR" x="11"/><use href="#sB" x="9"/><use href="#sB" x="11"/><use href="#sY" x="16"/><use href="#sY" x="19"/><use href="#sO" x="16"/><use href="#sO" x="19"/>
<use href="#G" x="0"/><use href="#G" x="2"/><use href="#G" x="3"/><use href="#G" x="5"/><use href="#G" x="6"/><use href="#G" x="7"/><use href="#G" x="8"/>
<use href="#Y" x="0"/><use href="#Y" x="2"/><use href="#Y" x="3"/><use href="#Y" x="5"/><use href="#Y" x="6"/><use href="#Y" x="7"/><use href="#Y" x="8"/><use href="#Y" x="15"/>
<use href="#R" x="9"/><use href="#R" x="11"/><use href="#R" x="13"/><use href="#R" x="14"/>
<use href="#B" x="9"/><use href="#B" x="11"/><use href="#B" x="13"/><use href="#B" x="14"/>
<use href="#xY" x="16"/><use href="#xY" x="18"/><use href="#xY" x="19"/><use href="#xY" x="21"/><use href="#xY" x="22"/><use href="#xY" x="23"/><use href="#xY" x="24"/>
<use href="#xO" x="16"/><use href="#xO" x="18"/><use href="#xO" x="19"/><use href="#xO" x="21"/><use href="#xO" x="22"/><use href="#xO" x="23"/><use href="#xO" x="24"/>
<rect class="og" x="16" width="8" height="61"/><rect class="ob" width="20.95" height="61"/>
</g>
<text class="n" y="-6.5"><tspan x="2">49</tspan><tspan x="247">50</tspan><tspan x="492">51</tspan><tspan x="737">52</tspan></text>
<text class="g" y="77"><tspan x="243">336</tspan><tspan x="488">311</tspan><tspan x="733">336</tspan><tspan x="978">50</tspan></text>
<text class="s" y="90"><tspan x="243">75588</tspan><tspan x="488">78076</tspan><tspan x="733">80364</tspan><tspan x="978">80564</tspan></text>
<text class="p" y="103"><tspan x="243">0.00%</tspan><tspan x="488">0.00%</tspan><tspan x="733">0.00%</tspan><tspan x="978">25.00%</tspan></text>
</g>

<g id="r14" transform="translate(32 2038)">
<g transform="scale(30.625 1)">
<use href="#st"/>
<use href="#B" x="0"/><use href="#B" x="1"/><use href="#B" x="7"/><use href="#B" x="8"/><use href="#B" x="9"/><use href="#B" x="11"/><use href="#B" x="12"/><use href="#B" x="13"/><use href="#B" x="14"/><use href="#B" x="15"/><use href="#B" x="16"/><use href="#B" x="17"/><use href="#B" x="23"/><use href="#B" x="24"/><use href="#B" x="25"/><use href="#B" x="27"/><use href="#B" x="28"/><use href="#B" x="29"/><use href="#B" x="30"/><use href="#B" x="31"/>
<use href="#O" x="0"/><use href="#O" x="1"/><use href="#O" x="3"/><use href="#O" x="4"/><use href="#O" x="5"/><use href="#O" x="15"/><use href="#O" x="16"/><use href="#O" x="17"/><use href="#O" x="19"/><use href="#O" x="20"/><use href="#O" x="21"/><use href="#O" x="31"/>
<use href="#Y" x="2"/><use href="#Y" x="3"/><use href="#Y" x="4"/><use href="#Y" x="5"/><use href="#Y" x="6"/><use href="#Y" x="7"/><use href="#Y" x="8"/><use href="#Y" x="9"/><use href="#Y" x="18"/><use href="#Y" x="19"/><use href="#Y" x="20"/><use href="#Y" x="21"/><use href="#Y" x="22"/><use href="#Y" x="23"/><use href="#Y" x="24"/><use href="#Y" x="25"/>
<use href="#R" x="10"/><use href="#R" x="11"/><use href="#R" x="12"/><use href="#R" x="13"/><use href="#R" x="26"/><use href="#R" x="27"/><use href="#R" x="28"/><use href="#R" x="29"/>
</g>
<text class="n" y="-6.5"><tspan x="2">53</tspan><tspan x="247">54</tspan><tspan x="492">55</tspan><tspan x="737">56</tspan></text>
<text class="g" y="77"><tspan x="243">350</tspan><tspan x="488">350</tspan><tspan x="733">350</tspan><tspan x="978">350</tspan></text>
<text class="s" y="90"><tspan x="243">81964</tspan><tspan x="488">83364</tspan><tspan x="733">84764</tspan><tspan x="978">86164</tspan></text>
<text class="p" y="103"><tspan x="243">25.00%</tspan><tspan x="488">25.00%</tspan><tspan x="733">25.00%</tspan><tspan x="978">25.00%</tspan></text>
</g>

<g id="r15" transform="translate(32 2179)">
<g transform="scale(30.625 1)">
<use href="#st"/>
<rect class="fG" x="16" y="-3.5" width="2.5" height="7"/><rect class="fG" x="19" y="-3.5" width="2.5" height="7"/><use href="#sG" x="22"/>
<rect class="fY" x="16" y="27" width="2.5" height="7"/><rect class="fY" x="19" y="27" width="2.5" height="7"/><use href="#sY" x="22"/>
<use href="#sR" x="25"/><use href="#sR" x="27"/><use href="#sB" x="25"/><use href="#sB" x="27"/>
<use href="#B" x="0"/><use href="#B" x="1"/><use href="#B" x="7"/><use href="#B" x="8"/><use href="#B" x="9"/><use href="#B" x="11"/><use href="#B" x="12"/><use href="#B" x="13"/><use href="#B" x="25"/><use href="#B" x="27"/><use href="#B" x="29"/><use href="#B" x="30"/><use href="#B" x="31"/>
<use href="#O" x="0"/><use href="#O" x="1"/><use href="#O" x="3"/><use href="#O" x="4"/><use href="#O" x="5"/><use href="#O" x="31"/>
<use href="#Y" x="2"/><use href="#Y" x="3"/><use href="#Y" x="4"/><use href="#Y" x="5"/><use href="#Y" x="6"/><use href="#Y" x="7"/><use href="#Y" x="8"/><use href="#Y" x="9"/>
<use href="#R" x="10"/><use href="#R" x="11"/><use href="#R" x="12"/><use href="#R" x="13"/><use href="#R" x="14"/><use href="#R" x="25"/><use href="#R" x="27"/><use href="#R" x="29"/>
<use href="#G" x="15"/><use href="#G" x="24"/>
<use href="#xG" x="16"/><use href="#xG" x="19"/><use href="#xG" x="22"/><use href="#xY" x="16"/><use href="#xY" x="19"/><use href="#xY" x="22"/>
<rect class="og" x="16" width="7.5" height="61"/><rect class="or" x="31" width=".4" height="61"/><rect class="ob" x="31.4" width=".6" height="61"/>
</g>
<text class="n" y="-6.5"><tspan x="2">57</tspan><tspan x="247">58</tspan><tspan x="492">59</tspan><tspan x="737">60</tspan></text>
<text class="g" y="77"><tspan x="243">350</tspan><tspan x="488">325</tspan><tspan x="733">228</tspan><tspan x="978">286</tspan></text>
<text class="s" y="90"><tspan x="243">87564</tspan><tspan x="488">88864</tspan><tspan x="733">89776</tspan><tspan x="978">91120</tspan></text>
<text class="p" y="103"><tspan x="243">25.00%</tspan><tspan x="488">25.00%</tspan><tspan x="733">61.05%</tspan><tspan x="978">60.16%</tspan></text>
</g>

<g id="r16" transform="translate(32 2320)">
<g transform="scale(30.625 1)">
<use href="#st"/>
<use href="#R" x="10"/><use href="#R" x="11"/><use href="#R" x="12"/><use href="#R" x="13"/><use href="#R" x="26"/><use href="#R" x="27"/><use href="#R" x="28"/><use href="#R" x="29"/>
<use href="#Y" x="2"/><use href="#Y" x="3"/><use href="#Y" x="4"/><use href="#Y" x="5"/><use href="#Y" x="6"/><use href="#Y" x="7"/><use href="#Y" x="8"/><use href="#Y" x="9"/><use href="#Y" x="18"/><use href="#Y" x="19"/><use href="#Y" x="20"/><use href="#Y" x="21"/><use href="#Y" x="22"/><use href="#Y" x="23"/><use href="#Y" x="24"/><use href="#Y" x="25"/>
<use href="#B" x="0"/><use href="#B" x="1"/><use href="#B" x="7"/><use href="#B" x="8"/><use href="#B" x="9"/><use href="#B" x="11"/><use href="#B" x="12"/><use href="#B" x="13"/><use href="#B" x="14"/><use href="#B" x="15"/><use href="#B" x="15.5"/><use href="#B" x="16"/><use href="#B" x="17"/><use href="#B" x="23"/><use href="#B" x="24"/><use href="#B" x="25"/><use href="#B" x="27"/><use href="#B" x="28"/><use href="#B" x="29"/><use href="#B" x="30"/><use href="#B" x="31"/>
<use href="#O" x="0"/><use href="#O" x="1"/><use href="#O" x="3"/><use href="#O" x="4"/><use href="#O" x="5"/><use href="#O" x="15"/><use href="#O" x="15.5"/><use href="#O" x="16"/><use href="#O" x="17"/><use href="#O" x="19"/><use href="#O" x="20"/><use href="#O" x="21"/><use href="#O" x="31"/>
<rect class="ob" width="32" height="61"/>
</g>
<text class="n" y="-6.5"><tspan x="2">61</tspan><tspan x="247">62</tspan><tspan x="492">63</tspan><tspan x="737">64</tspan></text>
<text class="g" y="77"><tspan x="243">350</tspan><tspan x="488">400</tspan><tspan x="733">350</tspan><tspan x="978">350</tspan></text>
<text class="s" y="90"><tspan x="243">94120</tspan><tspan x="488">97120</tspan><tspan x="733">99920</tspan><tspan x="978">102720</tspan></text>
<text class="p" y="103"><tspan x="243">47.66%</tspan><tspan x="488">35.16%</tspan><tspan x="733">22.66%</tspan><tspan x="978">10.16%</tspan></text>
</g>

<g id="r17" transform="translate(32 2461)">
<g transform="scale(30.625 1)">
<use href="#st"/>
<use href="#sB" x="25"/><use href="#sB" x="27"/><use href="#sY" x="16"/><use href="#sY" x="19"/><use href="#sR" x="25"/><use href="#sR" x="27"/><use href="#sG" x="16"/><use href="#sG" x="19"/>
<use href="#B" x="0"/><use href="#B" x="1"/><use href="#B" x="7"/><use href="#B" x="8"/><use href="#B" x="9"/><use href="#B" x="11"/><use href="#B" x="12"/><use href="#B" x="13"/><use href="#B" x="25"/><use href="#B" x="27"/><use href="#B" x="29"/><use href="#B" x="30"/>
<use href="#O" x="0"/><use href="#O" x="1"/><use href="#O" x="3"/><use href="#O" x="4"/><use href="#O" x="5"/>
<use href="#Y" x="2"/><use href="#Y" x="3"/><use href="#Y" x="4"/><use href="#Y" x="5"/><use href="#Y" x="6"/><use href="#Y" x="7"/><use href="#Y" x="8"/><use href="#Y" x="9"/><use href="#Y" x="16"/><use href="#Y" x="18"/><use href="#Y" x="19"/><use href="#Y" x="21"/><use href="#Y" x="22"/><use href="#Y" x="23"/><use href="#Y" x="31"/>
<use href="#R" x="10"/><use href="#R" x="11"/><use href="#R" x="12"/><use href="#R" x="13"/><use href="#R" x="14"/><use href="#R" x="25"/><use href="#R" x="27"/><use href="#R" x="29"/><use href="#R" x="30"/>
<use href="#G" x="15"/><use href="#G" x="16"/><use href="#G" x="18"/><use href="#G" x="19"/><use href="#G" x="21"/><use href="#G" x="22"/><use href="#G" x="23"/><use href="#G" x="24"/>
<rect class="ob" width="22.5" height="61"/><rect class="or" x="22.5" width=".5" height="61"/>
</g>
<text class="n" y="-6.5"><tspan x="2">65</tspan><tspan x="247">66</tspan><tspan x="492">67</tspan><tspan x="737">68</tspan></text>
<text class="g" y="77"><tspan x="243">350</tspan><tspan x="488">325</tspan><tspan x="733">336</tspan><tspan x="978">286</tspan></text>
<text class="s" y="90"><tspan x="243">105520</tspan><tspan x="488">108120</tspan><tspan x="733">110808</tspan><tspan x="978">111952</tspan></text>
<text class="p" y="103"><tspan x="243">0.00%</tspan><tspan x="488">0.00%</tspan><tspan x="733">0.00%</tspan><tspan x="978">0.00%</tspan></text>
</g>

<g id="r18" transform="translate(32 2602)">
<g transform="scale(30.625 1)">
<rect class="py" y="-10" width="8" height="82"/><rect class="wf" width="8" height="61"/><rect class="sl" x="13" y="-10" width="19" height="82"/>
<use href="#st"/>
<rect class="fY" y="27" width="2.5" height="7"/><use href="#sY" x="3"/><rect class="fO" y="57.5" width="2.5" height="7"/><use href="#sO" x="3"/>
<rect class="fO" x="18" y="57.5" width="2" height="7"/><use href="#sG" x="23"/><rect class="fB" x="26" y="42.25" width="2" height="7"/>
<use href="#xY" x="0"/><use href="#xY" x="3"/><use href="#xY" x="5"/><use href="#xY" x="6"/><use href="#xY" x="7"/><use href="#xY" x="8"/>
<use href="#xO" x="0"/><use href="#xO" x="3"/><use href="#xO" x="5"/><use href="#xO" x="6"/><use href="#xO" x="7"/><use href="#xO" x="8"/>
<use href="#G" x="13"/><use href="#G" x="23"/><use href="#R" x="14.5"/><use href="#Y" x="16"/><use href="#Y" x="22"/><use href="#Y" x="29"/>
<use href="#B" x="16.5"/><use href="#B" x="21"/><use href="#B" x="26"/><use href="#B" x="30"/><use href="#O" x="18"/><use href="#O" x="25"/><use href="#O" x="31"/>
<rect class="og" width="8" height="61"/>
</g>
<text class="n" y="-6.5"><tspan x="2">69</tspan><tspan x="247">70</tspan><tspan x="492">71</tspan><tspan x="737">72</tspan></text>
<text class="g" y="77"><tspan x="243">298</tspan><tspan x="488">100</tspan><tspan x="733">168</tspan><tspan x="978">140</tspan></text>
<text class="s" y="90"><tspan x="243">113144</tspan><tspan x="488">113544</tspan><tspan x="733">114216</tspan><tspan x="978">114776</tspan></text>
<text class="p" y="103"><tspan x="243">6.80%</tspan><tspan x="488">31.80%</tspan><tspan x="733">31.80%</tspan><tspan x="978">31.80%</tspan></text>
</g>

<g id="r19" transform="translate(32 2743)">
<g transform="scale(30.625 1)">
<rect class="sl" y="-10" width="32" height="82"/>
<use href="#st"/>
<rect class="fB" x="3" y="42.25" width="1" height="7"/><use href="#sO" x="5"/><use href="#sB" x="7"/><use href="#sO" x="9"/><use href="#sG" x="19"/><use href="#sR" x="23"/><use href="#sY" x="27"/><rect class="fB" x="29" y="42.25" width="2.5" height="7"/>
<use href="#R" x="0"/><use href="#R" x="18"/><use href="#R" x="21"/><use href="#R" x="23"/>
<use href="#Y" x="1"/><use href="#Y" x="2"/><use href="#Y" x="11"/><use href="#Y" x="17"/><use href="#Y" x="27"/>
<use href="#B" x="3"/><use href="#B" x="7"/><use href="#B" x="12"/><use href="#B" x="14"/><use href="#B" x="16"/><use href="#B" x="26"/><use href="#B" x="29"/>
<use href="#O" x="4.5"/><use href="#O" x="5"/><use href="#O" x="9"/><use href="#O" x="13"/><use href="#O" x="15"/><use href="#O" x="25"/>
<use href="#G" x="19"/><use href="#G" x="22"/>
</g>
<text class="n" y="-6.5"><tspan x="2">73</tspan><tspan x="247">74</tspan><tspan x="492">75</tspan><tspan x="737">76</tspan></text>
<text class="g" y="77"><tspan x="243">196</tspan><tspan x="488">162</tspan><tspan x="733">190</tspan><tspan x="978">127</tspan></text>
<text class="s" y="90"><tspan x="243">115560</tspan><tspan x="488">116208</tspan><tspan x="733">116968</tspan><tspan x="978">117476</tspan></text>
<text class="p" y="103"><tspan x="243">31.80%</tspan><tspan x="488">31.80%</tspan><tspan x="733">31.80%</tspan><tspan x="978">31.80%</tspan></text>
</g>

<g id="r20" transform="translate(32 2884)">
<g transform="scale(30.625 1)">
<rect class="sl" y="-10" width="26.5" height="82"/>
<use href="#st"/>
<use href="#sG" x="14"/><rect class="fR" x="17" y="11.75" width="9" height="7"/>
<use href="#R" x="1"/><use href="#Y" x="2.5"/><use href="#Y" x="29"/><use href="#Y" x="30"/><use href="#Y" x="31"/>
<use href="#B" x="4"/><use href="#B" x="5"/><use href="#B" x="8"/><use href="#B" x="10.5"/>
<use href="#O" x="4.5"/><use href="#O" x="7"/><use href="#O" x="10"/><use href="#O" x="29"/><use href="#O" x="30"/>
<use href="#xY" x="12"/><use href="#xR" x="13"/><use href="#xR" x="17"/><use href="#xG" x="14"/><use href="#xG" x="16"/>
<rect class="og" x="12" width="14" height="61"/>
</g>
<text class="n" y="-6.5"><tspan x="2">77</tspan><tspan x="247">78</tspan><tspan x="492">79</tspan><tspan x="737">80</tspan></text>
<text class="g" y="77"><tspan x="243">150</tspan><tspan x="488">159</tspan><tspan x="733">92</tspan><tspan x="978">137</tspan></text>
<text class="s" y="90"><tspan x="243">118076</tspan><tspan x="488">118712</tspan><tspan x="733">119080</tspan><tspan x="978">124728</tspan></text>
<text class="p" y="103"><tspan x="243">31.80%</tspan><tspan x="488">34.35%</tspan><tspan x="733">71.25%</tspan><tspan x="978">74.65%</tspan></text>
</g>

<g id="r21" transform="translate(32 3025)">
<g transform="scale(30.625 1)">
<use href="#st"/>
<use href="#sY" x="0"/><use href="#sY" x="3"/><use href="#sY" x="24"/><use href="#sY" x="27"/><use href="#sB" x="0"/><use href="#sB" x="3"/><use href="#sB" x="8"/><use href="#sB" x="19"/><use href="#sR" x="8"/><use href="#sO" x="19"/><use href="#sO" x="24"/><use href="#sO" x="27"/>
<use href="#Y" x="0"/><use href="#Y" x="2"/><use href="#Y" x="3"/><use href="#Y" x="5"/><use href="#Y" x="6"/><use href="#Y" x="16"/><use href="#Y" x="23"/><use href="#Y" x="24"/><use href="#Y" x="26"/><use href="#Y" x="27"/><use href="#Y" x="29"/><use href="#Y" x="30"/><use href="#Y" x="31"/>
<use href="#B" x="0"/><use href="#B" x="2"/><use href="#B" x="3"/><use href="#B" x="5"/><use href="#B" x="6"/><use href="#B" x="8"/><use href="#B" x="10"/><use href="#B" x="11"/><use href="#B" x="12"/><use href="#B" x="13"/><use href="#B" x="14"/><use href="#B" x="15"/><use href="#B" x="17"/><use href="#B" x="18"/><use href="#B" x="19"/><use href="#B" x="21"/><use href="#B" x="22"/>
<use href="#R" x="7"/><use href="#R" x="8"/><use href="#R" x="10"/><use href="#R" x="11"/><use href="#R" x="12"/><use href="#R" x="13"/><use href="#R" x="14"/><use href="#R" x="15"/>
<use href="#O" x="17"/><use href="#O" x="18"/><use href="#O" x="19"/><use href="#O" x="21"/><use href="#O" x="22"/><use href="#O" x="24"/><use href="#O" x="26"/><use href="#O" x="27"/><use href="#O" x="29"/><use href="#O" x="30"/>
</g>
<text class="n" y="-6.5"><tspan x="2">81</tspan><tspan x="247">82</tspan><tspan x="492">83</tspan><tspan x="737">84</tspan></text>
<text class="g" y="77"><tspan x="243">311</tspan><tspan x="488">368</tspan><tspan x="733">318</tspan><tspan x="978">311</tspan></text>
<text class="s" y="90"><tspan x="243">125972</tspan><tspan x="488">127444</tspan><tspan x="733">128716</tspan><tspan x="978">129960</tspan></text>
<text class="p" y="103"><tspan x="243">74.65%</tspan><tspan x="488">74.65%</tspan><tspan x="733">74.65%</tspan><tspan x="978">74.65%</tspan></text>
</g>

<g id="r22" transform="translate(32 3166)">
<g transform="scale(30.625 1)">
<use href="#st"/>
<use href="#sY" x="0"/><use href="#sY" x="3"/><use href="#sY" x="16"/><use href="#sY" x="19"/><use href="#sB" x="0"/><use href="#sB" x="3"/><use href="#sB" x="8"/><use href="#sB" x="11"/><use href="#sB" x="25"/><use href="#sB" x="27"/><use href="#sR" x="8"/><use href="#sR" x="11"/><use href="#sR" x="25"/><use href="#sR" x="27"/><use href="#sG" x="16"/><use href="#sG" x="19"/>
<use href="#Y" x="0"/><use href="#Y" x="2"/><use href="#Y" x="3"/><use href="#Y" x="5"/><use href="#Y" x="6"/><use href="#Y" x="16"/><use href="#Y" x="18"/><use href="#Y" x="19"/><use href="#Y" x="21"/><use href="#Y" x="22"/><use href="#Y" x="23"/><use href="#Y" x="24"/><use href="#Y" x="31"/>
<use href="#B" x="0"/><use href="#B" x="2"/><use href="#B" x="3"/><use href="#B" x="5"/><use href="#B" x="6"/><use href="#B" x="8"/><use href="#B" x="10"/><use href="#B" x="11"/><use href="#B" x="13"/><use href="#B" x="14"/><use href="#B" x="25"/><use href="#B" x="27"/><use href="#B" x="29"/><use href="#B" x="30"/>
<use href="#R" x="7"/><use href="#R" x="8"/><use href="#R" x="10"/><use href="#R" x="11"/><use href="#R" x="13"/><use href="#R" x="14"/><use href="#R" x="25"/><use href="#R" x="27"/><use href="#R" x="29"/><use href="#R" x="30"/>
<use href="#G" x="15"/><use href="#G" x="16"/><use href="#G" x="18"/><use href="#G" x="19"/><use href="#G" x="21"/><use href="#G" x="22"/><use href="#G" x="23"/><use href="#G" x="24"/>
<rect class="or" x="3" width=".46" height="61"/><rect class="ob" x="3.46" width="28.54" height="61"/>
</g>
<text class="n" y="-6.5"><tspan x="2">85</tspan><tspan x="247">86</tspan><tspan x="492">87</tspan><tspan x="737">88</tspan></text>
<text class="g" y="77"><tspan x="243">311</tspan><tspan x="488">311</tspan><tspan x="733">336</tspan><tspan x="978">311</tspan></text>
<text class="s" y="90"><tspan x="243">131976</tspan><tspan x="488">134464</tspan><tspan x="733">137152</tspan><tspan x="978">139640</tspan></text>
<text class="p" y="103"><tspan x="243">67.57%</tspan><tspan x="488">55.07%</tspan><tspan x="733">42.57%</tspan><tspan x="978">30.07%</tspan></text>
</g>

<g id="r23" transform="translate(32 3307)">
<g transform="scale(30.625 1)">
<use href="#st"/>
<use href="#sY" x="0"/><use href="#sY" x="3"/><use href="#sY" x="7"/><use href="#sY" x="11"/><use href="#sY" x="16"/><use href="#sY" x="19"/><use href="#sB" x="0"/><use href="#sB" x="3"/><use href="#sB" x="7"/><use href="#sB" x="11"/><use href="#sB" x="27"/><rect class="fB" x="25" y="42.25" width="1.7" height="7"/><rect class="fR" x="25" y="11.75" width="1.7" height="7"/><use href="#sR" x="27"/><use href="#sG" x="16"/><use href="#sG" x="19"/>
<use href="#Y" x="0"/><use href="#Y" x="2"/><use href="#Y" x="3"/><use href="#Y" x="5"/><use href="#Y" x="6"/><use href="#Y" x="7"/><use href="#Y" x="9"/><use href="#Y" x="10"/><use href="#Y" x="11"/><use href="#Y" x="13"/><use href="#Y" x="14"/><use href="#Y" x="16"/><use href="#Y" x="18"/><use href="#Y" x="19"/><use href="#Y" x="21"/><use href="#Y" x="22"/><use href="#Y" x="23"/><use href="#Y" x="24"/><use href="#Y" x="31"/>
<use href="#B" x="0"/><use href="#B" x="2"/><use href="#B" x="3"/><use href="#B" x="5"/><use href="#B" x="6"/><use href="#B" x="7"/><use href="#B" x="9"/><use href="#B" x="10"/><use href="#B" x="11"/><use href="#B" x="13"/><use href="#B" x="14"/><use href="#B" x="25"/><use href="#B" x="27"/><use href="#B" x="29"/><use href="#B" x="30"/>
<use href="#G" x="15"/><use href="#G" x="16"/><use href="#G" x="18"/><use href="#G" x="19"/><use href="#G" x="21"/><use href="#G" x="22"/><use href="#G" x="23"/><use href="#G" x="24"/>
<use href="#R" x="25"/><use href="#R" x="27"/><use href="#R" x="29"/><use href="#R" x="30"/>
<rect class="ob" width="32" height="61"/>
</g>
<text class="n" y="-6.5"><tspan x="2">89</tspan><tspan x="247">90</tspan><tspan x="492">91</tspan><tspan x="737">92</tspan></text>
<text class="g" y="77"><tspan x="243">348</tspan><tspan x="488">299</tspan><tspan x="733">336</tspan><tspan x="978">315</tspan></text>
<text class="s" y="90"><tspan x="243">142424</tspan><tspan x="488">144816</tspan><tspan x="733">147504</tspan><tspan x="978">150024</tspan></text>
<text class="p" y="103"><tspan x="243">17.57%</tspan><tspan x="488">5.07%</tspan><tspan x="733">0.00%</tspan><tspan x="978">0.00%</tspan></text>
</g>

<g id="r24" transform="translate(32 3448)">
<g transform="scale(30.625 1)">
<rect class="py" y="-10" width="8" height="82"/><rect class="wf" width="8" height="61"/>
<use href="#st"/>
<use href="#sY" x="0"/><use href="#sY" x="3"/><use href="#sO" x="0"/><use href="#sO" x="3"/>
<use href="#xY" x="0"/><use href="#xY" x="2"/><use href="#xY" x="3"/><use href="#xY" x="5"/><use href="#xY" x="6"/><use href="#xY" x="7"/><use href="#xY" x="8"/>
<use href="#xO" x="0"/><use href="#xO" x="2"/><use href="#xO" x="3"/><use href="#xO" x="5"/><use href="#xO" x="6"/><use href="#xO" x="7"/><use href="#xO" x="8"/>
<use href="#B" x="16"/><use href="#B" x="17"/><use href="#B" x="23"/><use href="#B" x="24"/><use href="#B" x="25"/><use href="#B" x="27"/><use href="#B" x="28"/><use href="#B" x="29"/><use href="#B" x="30"/><use href="#B" x="31"/>
<use href="#O" x="16"/><use href="#O" x="17"/><use href="#O" x="19"/><use href="#O" x="20"/><use href="#O" x="21"/><use href="#O" x="31"/>
<use href="#Y" x="18"/><use href="#Y" x="19"/><use href="#Y" x="20"/><use href="#Y" x="21"/><use href="#Y" x="22"/><use href="#Y" x="23"/><use href="#Y" x="24"/><use href="#Y" x="25"/>
<use href="#R" x="26"/><use href="#R" x="27"/><use href="#R" x="28"/><use href="#R" x="29"/>
<rect class="og" width="8" height="61"/><rect class="ob" width="6.5" height="61"/><rect class="or" x="6.5" width=".5" height="61"/>
</g>
<text class="n" y="-6.5"><tspan x="2">93</tspan><tspan x="247">94</tspan><tspan x="492">95</tspan><tspan x="737">96</tspan></text>
<text class="g" y="77"><tspan x="243">336</tspan><tspan x="488">50</tspan><tspan x="733">350</tspan><tspan x="978">350</tspan></text>
<text class="s" y="90"><tspan x="243">152712</tspan><tspan x="488">152912</tspan><tspan x="733">154312</tspan><tspan x="978">155712</tspan></text>
<text class="p" y="103"><tspan x="243">0.00%</tspan><tspan x="488">25.00%</tspan><tspan x="733">25.00%</tspan><tspan x="978">25.00%</tspan></text>
</g>

<g id="r25" transform="translate(32 3589)">
<g transform="scale(30.625 1)">
<use href="#st"/>
<use href="#B" x="0"/><use href="#B" x="1"/><use href="#B" x="7"/><use href="#B" x="8"/><use href="#B" x="9"/><use href="#B" x="11"/><use href="#B" x="12"/><use href="#B" x="13"/><use href="#B" x="14"/><use href="#B" x="15"/><use href="#B" x="16"/><use href="#B" x="17"/><use href="#B" x="23"/><use href="#B" x="24"/><use href="#B" x="25"/><use href="#B" x="27"/><use href="#B" x="28"/><use href="#B" x="29"/>
<use href="#O" x="0"/><use href="#O" x="1"/><use href="#O" x="3"/><use href="#O" x="4"/><use href="#O" x="5"/><use href="#O" x="15"/><use href="#O" x="16"/><use href="#O" x="17"/><use href="#O" x="19"/><use href="#O" x="20"/><use href="#O" x="21"/>
<use href="#Y" x="2"/><use href="#Y" x="3"/><use href="#Y" x="4"/><use href="#Y" x="5"/><use href="#Y" x="6"/><use href="#Y" x="7"/><use href="#Y" x="8"/><use href="#Y" x="9"/><use href="#Y" x="18"/><use href="#Y" x="19"/><use href="#Y" x="20"/><use href="#Y" x="21"/><use href="#Y" x="22"/><use href="#Y" x="23"/><use href="#Y" x="24"/><use href="#Y" x="25"/>
<use href="#R" x="10"/><use href="#R" x="11"/><use href="#R" x="12"/><use href="#R" x="13"/><use href="#R" x="26"/><use href="#R" x="27"/><use href="#R" x="28"/><use href="#R" x="29"/><use href="#R" x="30"/>
<use href="#G" x="31"/>
</g>
<text class="n" y="-6.5"><tspan x="2">97</tspan><tspan x="247">98</tspan><tspan x="492">99</tspan><tspan x="737">100</tspan></text>
<text class="g" y="77"><tspan x="243">350</tspan><tspan x="488">350</tspan><tspan x="733">350</tspan><tspan x="978">325</tspan></text>
<text class="s" y="90"><tspan x="243">157112</tspan><tspan x="488">158512</tspan><tspan x="733">159912</tspan><tspan x="978">161212</tspan></text>
<text class="p" y="103"><tspan x="243">25.00%</tspan><tspan x="488">25.00%</tspan><tspan x="733">25.00%</tspan><tspan x="978">25.00%</tspan></text>
</g>

<g id="r26" transform="translate(32 3730)">
<g transform="scale(30.625 1)">
<use href="#st"/>
<use href="#sG" x="0"/><use href="#sG" x="6"/><use href="#sY" x="0"/><use href="#sY" x="6"/>
<use href="#xG" x="0"/><use href="#xG" x="2"/><use href="#xG" x="3"/><use href="#xG" x="4"/><use href="#xG" x="5"/><use href="#xG" x="6"/>
<use href="#xY" x="0"/><use href="#xY" x="2"/><use href="#xY" x="3"/><use href="#xY" x="4"/><use href="#xY" x="5"/><use href="#xY" x="6"/>
<use href="#G" x="8"/>
<use href="#R" x="9"/><use href="#R" x="10"/><use href="#R" x="11"/><use href="#R" x="12"/><use href="#R" x="13"/><use href="#R" x="26"/><use href="#R" x="27"/><use href="#R" x="28"/><use href="#R" x="29"/>
<use href="#B" x="9"/><use href="#B" x="10"/><use href="#B" x="11"/><use href="#B" x="12"/><use href="#B" x="13"/><use href="#B" x="14"/><use href="#B" x="15"/><use href="#B" x="16"/><use href="#B" x="17"/><use href="#B" x="23"/><use href="#B" x="24"/><use href="#B" x="25"/><use href="#B" x="27"/><use href="#B" x="28"/><use href="#B" x="29"/><use href="#B" x="30"/><use href="#B" x="31"/>
<use href="#Y" x="18"/><use href="#Y" x="19"/><use href="#Y" x="20"/><use href="#Y" x="21"/><use href="#Y" x="22"/><use href="#Y" x="23"/><use href="#Y" x="24"/><use href="#Y" x="25"/>
<use href="#O" x="15"/><use href="#O" x="16"/><use href="#O" x="17"/><use href="#O" x="19"/><use href="#O" x="20"/><use href="#O" x="21"/><use href="#O" x="31"/>
<rect class="og" width="7.5" height="61"/><rect class="or" x="9" width=".3" height="61"/><rect class="ob" x="9.3" width="22.7" height="61"/>
</g>
<text class="n" y="-6.5"><tspan x="2">101</tspan><tspan x="247">102</tspan><tspan x="492">103</tspan><tspan x="737">104</tspan></text>
<text class="g" y="77"><tspan x="243">336</tspan><tspan x="488">350</tspan><tspan x="733">350</tspan><tspan x="978">350</tspan></text>
<text class="s" y="90"><tspan x="243">162556</tspan><tspan x="488">165256</tspan><tspan x="733">168056</tspan><tspan x="978">170856</tspan></text>
<text class="p" y="103"><tspan x="243">55.10%</tspan><tspan x="488">44.70%</tspan><tspan x="733">32.20%</tspan><tspan x="978">19.70%</tspan></text>
</g>

<g id="r27" transform="translate(32 3871)">
<g transform="scale(30.625 1)">
<use href="#st"/>
<use href="#B" x="0"/><use href="#B" x="1"/><use href="#B" x="7"/><use href="#B" x="8"/><use href="#B" x="9"/><use href="#B" x="11"/><use href="#B" x="12"/><use href="#B" x="13"/><use href="#B" x="14"/><use href="#B" x="15"/><use href="#B" x="16"/><use href="#B" x="17"/><use href="#B" x="23"/><use href="#B" x="24"/><use href="#B" x="25"/><use href="#B" x="27"/><use href="#B" x="28"/><use href="#B" x="29"/>
<use href="#O" x="0"/><use href="#O" x="1"/><use href="#O" x="3"/><use href="#O" x="4"/><use href="#O" x="5"/><use href="#O" x="15"/><use href="#O" x="16"/><use href="#O" x="17"/><use href="#O" x="19"/><use href="#O" x="20"/><use href="#O" x="21"/>
<use href="#Y" x="2"/><use href="#Y" x="3"/><use href="#Y" x="4"/><use href="#Y" x="5"/><use href="#Y" x="6"/><use href="#Y" x="7"/><use href="#Y" x="8"/><use href="#Y" x="9"/><use href="#Y" x="18"/><use href="#Y" x="19"/><use href="#Y" x="20"/><use href="#Y" x="21"/><use href="#Y" x="22"/><use href="#Y" x="23"/><use href="#Y" x="24"/><use href="#Y" x="25"/>
<use href="#R" x="10"/><use href="#R" x="11"/><use href="#R" x="12"/><use href="#R" x="13"/><use href="#R" x="26"/><use href="#R" x="27"/><use href="#R" x="28"/><use href="#R" x="29"/><use href="#R" x="30"/>
<use href="#G" x="31"/>
<rect class="ob" width="28.6" height="61"/><rect class="or" x="28.6" width=".4" height="61"/>
</g>
<text class="n" y="-6.5"><tspan x="2">105</tspan><tspan x="247">106</tspan><tspan x="492">107</tspan><tspan x="737">108</tspan></text>
<text class="g" y="77"><tspan x="243">350</tspan><tspan x="488">350</tspan><tspan x="733">350</tspan><tspan x="978">325</tspan></text>
<text class="s" y="90"><tspan x="243">173656</tspan><tspan x="488">176456</tspan><tspan x="733">179256</tspan><tspan x="978">181656</tspan></text>
<text class="p" y="103"><tspan x="243">7.20%</tspan><tspan x="488">0.00%</tspan><tspan x="733">0.00%</tspan><tspan x="978">0.00%</tspan></text>
</g>

<g id="r28" transform="translate(32 4012)">
<g transform="scale(30.625 1)">
<rect class="py" y="-10" width="7" height="82"/><rect class="wf" width="7" height="61"/>
<use href="#st"/>
<use href="#sG" x="0"/><use href="#sG" x="3"/><use href="#sY" x="0"/><use href="#sY" x="3"/><use href="#sY" x="20"/><use href="#sY" x="24"/><use href="#sR" x="9"/><use href="#sR" x="11"/><use href="#sB" x="9"/><use href="#sB" x="11"/><use href="#sB" x="16"/><use href="#sB" x="24"/><use href="#sO" x="16"/><use href="#sO" x="20"/>
<use href="#xG" x="0"/><use href="#xG" x="2"/><use href="#xG" x="3"/><use href="#xG" x="5"/><use href="#xG" x="6"/><use href="#xG" x="7"/>
<use href="#xY" x="0"/><use href="#xY" x="2"/><use href="#xY" x="3"/><use href="#xY" x="5"/><use href="#xY" x="6"/><use href="#xY" x="7"/>
<use href="#G" x="8"/><use href="#Y" x="8"/><use href="#Y" x="20"/><use href="#Y" x="24"/>
<use href="#R" x="9"/><use href="#R" x="11"/><use href="#R" x="13"/><use href="#R" x="14"/><use href="#R" x="28"/><use href="#R" x="29"/>
<use href="#B" x="9"/><use href="#B" x="11"/><use href="#B" x="13"/><use href="#B" x="14"/><use href="#B" x="15"/><use href="#B" x="16"/><use href="#B" x="24"/><use href="#B" x="28"/><use href="#B" x="29"/>
<use href="#O" x="16"/><use href="#O" x="20"/>
<rect class="og" width="7" height="61"/>
</g>
<text class="n" y="-6.5"><tspan x="2">109</tspan><tspan x="247">110</tspan><tspan x="492">111</tspan><tspan x="737">112</tspan></text>
<text class="g" y="77"><tspan x="243">336</tspan><tspan x="488">311</tspan><tspan x="733">136</tspan><tspan x="978">168</tspan></text>
<text class="s" y="90"><tspan x="243">183000</tspan><tspan x="488">184244</tspan><tspan x="733">184788</tspan><tspan x="978">185460</tspan></text>
<text class="p" y="103"><tspan x="243">30.10%</tspan><tspan x="488">30.10%</tspan><tspan x="733">30.10%</tspan><tspan x="978">30.10%</tspan></text>
</g>

<g id="r29" transform="translate(32 4153)">
<g transform="scale(30.625 1)">
<use href="#st"/>
<use href="#sY" x="4"/><use href="#sY" x="8"/><use href="#sY" x="20"/><use href="#sY" x="24"/><use href="#sB" x="0"/><use href="#sB" x="8"/><use href="#sB" x="16"/><use href="#sB" x="24"/><use href="#sO" x="0"/><use href="#sO" x="4"/><use href="#sO" x="16"/><use href="#sO" x="20"/>
<use href="#R" x="12"/><use href="#R" x="13"/><use href="#R" x="28"/><use href="#R" x="29"/><use href="#R" x="30"/>
<use href="#Y" x="4"/><use href="#Y" x="8"/><use href="#Y" x="20"/><use href="#Y" x="24"/>
<use href="#B" x="0"/><use href="#B" x="8"/><use href="#B" x="12"/><use href="#B" x="13"/><use href="#B" x="16"/><use href="#B" x="24"/><use href="#B" x="28"/><use href="#B" x="29"/>
<use href="#O" x="0"/><use href="#O" x="4"/><use href="#O" x="16"/><use href="#O" x="20"/>
<use href="#G" x="31"/>
</g>
<text class="n" y="-6.5"><tspan x="2">113</tspan><tspan x="247">114</tspan><tspan x="492">115</tspan><tspan x="737">116</tspan></text>
<text class="g" y="77"><tspan x="243">136</tspan><tspan x="488">168</tspan><tspan x="733">136</tspan><tspan x="978">218</tspan></text>
<text class="s" y="90"><tspan x="243">186004</tspan><tspan x="488">186676</tspan><tspan x="733">187220</tspan><tspan x="978">188092</tspan></text>
<text class="p" y="103"><tspan x="243">30.10%</tspan><tspan x="488">30.10%</tspan><tspan x="733">30.10%</tspan><tspan x="978">30.10%</tspan></text>
</g>

<g id="r30" transform="translate(32 4294)">
<g transform="scale(30.625 1)">
<rect class="sl" x="16" y="-10" width="16" height="82"/>
<use href="#st"/>
<use href="#G" x="0"/><use href="#G" x="1"/><use href="#G" x="2"/><use href="#G" x="3"/><use href="#G" x="4"/><use href="#G" x="5"/><use href="#G" x="6"/><use href="#G" x="7"/><use href="#G" x="16"/><use href="#G" x="25"/>
<use href="#Y" x="0"/><use href="#Y" x="1"/><use href="#Y" x="2"/><use href="#Y" x="3"/><use href="#Y" x="4"/><use href="#Y" x="5"/><use href="#Y" x="6"/><use href="#Y" x="7"/><use href="#Y" x="18"/><use href="#Y" x="20"/><use href="#Y" x="22"/><use href="#Y" x="27"/><use href="#Y" x="28.5"/><use href="#Y" x="29"/><use href="#Y" x="31"/>
<use href="#R" x="8"/><use href="#R" x="9"/><use href="#R" x="10"/><use href="#R" x="11"/><use href="#R" x="12"/><use href="#R" x="13"/><use href="#R" x="14"/><use href="#R" x="15"/><use href="#R" x="17"/><use href="#R" x="19"/><use href="#R" x="24"/><use href="#R" x="26"/><use href="#R" x="28"/>
<use href="#B" x="8"/><use href="#B" x="9"/><use href="#B" x="10"/><use href="#B" x="11"/><use href="#B" x="12"/><use href="#B" x="13"/><use href="#B" x="14"/><use href="#B" x="21"/><use href="#B" x="23"/><use href="#B" x="30"/>
<rect class="or" x="11" width=".3" height="61"/><rect class="ob" x="11.3" width="20.7" height="61"/>
</g>
<text class="n" y="-6.5"><tspan x="2">117</tspan><tspan x="247">118</tspan><tspan x="492">119</tspan><tspan x="737">120</tspan></text>
<text class="g" y="77"><tspan x="243">400</tspan><tspan x="488">375</tspan><tspan x="733">200</tspan><tspan x="978">225</tspan></text>
<text class="s" y="90"><tspan x="243">189692</tspan><tspan x="488">192092</tspan><tspan x="733">193692</tspan><tspan x="978">195492</tspan></text>
<text class="p" y="103"><tspan x="243">30.10%</tspan><tspan x="488">22.82%</tspan><tspan x="733">10.32%</tspan><tspan x="978">0.00%</tspan></text>
</g>

<g id="r31" transform="translate(32 4435)">
<g transform="scale(30.625 1)">
<rect class="sl" y="-10" width="32" height="82"/>
<use href="#st"/>
<use href="#B" x="0"/><use href="#B" x="2"/><use href="#B" x="3"/><use href="#B" x="17"/><use href="#B" x="24"/><use href="#B" x="26"/><use href="#B" x="28"/>
<use href="#xB" x="4"/><use href="#xB" x="12"/><use href="#xB" x="13"/><use href="#xB" x="14"/><use href="#xB" x="15"/>
<use href="#O" x="1"/><use href="#O" x="25"/>
<use href="#xO" x="4.5"/><use href="#xO" x="5"/><use href="#xO" x="6"/><use href="#xO" x="7"/><use href="#xO" x="8"/><use href="#xO" x="9"/><use href="#xO" x="10"/><use href="#xO" x="11"/>
<use href="#R" x="16"/><use href="#R" x="18"/><use href="#R" x="20"/><use href="#R" x="22"/><use href="#R" x="30"/>
<use href="#Y" x="19"/><use href="#Y" x="27"/><use href="#Y" x="29"/><use href="#G" x="21"/><use href="#G" x="23"/>
<rect class="og" x="4" width="11" height="61"/><rect class="ob" width="30.56" height="61"/>
</g>
<text class="n" y="-6.5"><tspan x="2">121</tspan><tspan x="247">122</tspan><tspan x="492">123</tspan><tspan x="737">124</tspan></text>
<text class="g" y="77"><tspan x="243">225</tspan><tspan x="488">200</tspan><tspan x="733">200</tspan><tspan x="978">175</tspan></text>
<text class="s" y="90"><tspan x="243">197292</tspan><tspan x="488">198992</tspan><tspan x="733">200492</tspan><tspan x="978">201892</tspan></text>
<text class="p" y="103"><tspan x="243">0.00%</tspan><tspan x="488">23.44%</tspan><tspan x="733">10.94%</tspan><tspan x="978">0.00%</tspan></text>
</g>

<g id="r32" transform="translate(32 4576)">
<g transform="scale(30.625 1)">
<rect class="sl" y="-10" width="32" height="82"/>
<use href="#st"/>
<rect class="fY" x="12" y="27" width="3.5" height="7"/>
<use href="#G" x="0"/><use href="#G" x="16"/><use href="#G" x="25"/><use href="#G" x="31"/>
<use href="#R" x="1"/><use href="#R" x="3"/><use href="#R" x="11"/><use href="#R" x="17"/><use href="#R" x="19"/><use href="#R" x="26"/><use href="#R" x="28"/>
<use href="#Y" x="2"/><use href="#Y" x="4"/><use href="#Y" x="6"/><use href="#Y" x="10"/><use href="#Y" x="12"/><use href="#Y" x="18"/><use href="#Y" x="20"/><use href="#Y" x="22"/><use href="#Y" x="27"/><use href="#Y" x="29"/>
<use href="#B" x="5"/><use href="#B" x="9"/><use href="#B" x="21"/><use href="#B" x="23"/><use href="#B" x="30"/>
<use href="#O" x="8"/><use href="#O" x="24"/>
</g>
<text class="n" y="-6.5"><tspan x="2">125</tspan><tspan x="247">126</tspan><tspan x="492">127</tspan><tspan x="737">128</tspan></text>
<text class="g" y="77"><tspan x="243">175</tspan><tspan x="488">146</tspan><tspan x="733">200</tspan><tspan x="978">200</tspan></text>
<text class="s" y="90"><tspan x="243">202592</tspan><tspan x="488">203176</tspan><tspan x="733">203976</tspan><tspan x="978">204776</tspan></text>
<text class="p" y="103"><tspan x="243">0.00%</tspan><tspan x="488">0.00%</tspan><tspan x="733">0.00%</tspan><tspan x="978">0.00%</tspan></text>
</g>

<g id="r33" transform="translate(32 4717)">
<g transform="scale(30.625 1)">
<rect class="sl" y="-10" width="32" height="82"/>
<use href="#st"/>
<use href="#R" x="0"/><use href="#R" x="21"/><use href="#R" x="26"/><use href="#R" x="28"/><use href="#R" x="30"/>
<use href="#Y" x="1"/><use href="#Y" x="2"/><use href="#Y" x="16"/><use href="#Y" x="18"/><use href="#Y" x="20"/><use href="#Y" x="25"/><use href="#Y" x="27"/>
<use href="#B" x="2.5"/><use href="#B" x="3"/><use href="#B" x="13"/><use href="#B" x="15"/><use href="#B" x="17"/><use href="#B" x="22"/><use href="#B" x="24"/>
<use href="#O" x="4"/><use href="#O" x="5"/><use href="#O" x="6"/><use href="#O" x="7"/><use href="#O" x="8"/><use href="#O" x="9.33"/><use href="#O" x="10.67"/><use href="#O" x="12"/><use href="#O" x="14"/><use href="#O" x="23"/>
<use href="#G" x="19"/><use href="#G" x="29"/><use href="#G" x="31"/>
</g>
<text class="n" y="-6.5"><tspan x="2">129</tspan><tspan x="247">130</tspan><tspan x="492">131</tspan><tspan x="737">132</tspan></text>
<text class="g" y="77"><tspan x="243">225</tspan><tspan x="488">175</tspan><tspan x="733">200</tspan><tspan x="978">200</tspan></text>
<text class="s" y="90"><tspan x="243">205676</tspan><tspan x="488">206376</tspan><tspan x="733">207176</tspan><tspan x="978">207976</tspan></text>
<text class="p" y="103"><tspan x="243">0.00%</tspan><tspan x="488">0.00%</tspan><tspan x="733">0.00%</tspan><tspan x="978">0.00%</tspan></text>
</g>

<g id="r34" transform="translate(32 4858)">
<g transform="scale(30.625 1)">
<rect class="sl" y="-10" width="21" height="82"/>
<use href="#st3"/>
<use href="#sB" x="0"/><use href="#sY" x="2"/><use href="#sR" x="4"/><use href="#sR" x="14"/><use href="#sG" x="6"/><rect class="fR" x="16" y="11.75" width="5" height="7"/>
<use href="#B" x="0"/><use href="#B" x="8"/><use href="#B" x="12"/>
<use href="#Y" x="2"/><use href="#Y" x="8.5"/><use href="#Y" x="9"/><use href="#Y" x="13"/>
<use href="#R" x="4"/><use href="#R" x="10"/><use href="#R" x="14"/><use href="#R" x="16"/>
<use href="#G" x="6"/><use href="#O" x="11"/>
</g>
<text class="n" y="-6.5"><tspan x="2">133</tspan><tspan x="247">134</tspan><tspan x="492">135</tspan></text>
<text class="g" y="77"><tspan x="243">136</tspan><tspan x="488">209</tspan><tspan x="733">55</tspan></text>
<text class="s" y="90"><tspan x="243">208520</tspan><tspan x="488">209356</tspan><tspan x="733">221776</tspan></text>
<text class="p" y="103"><tspan x="243">0.00%</tspan><tspan x="488">0.00%</tspan><tspan x="733">0.00%</tspan></text>
</g>
</g>
</svg>
